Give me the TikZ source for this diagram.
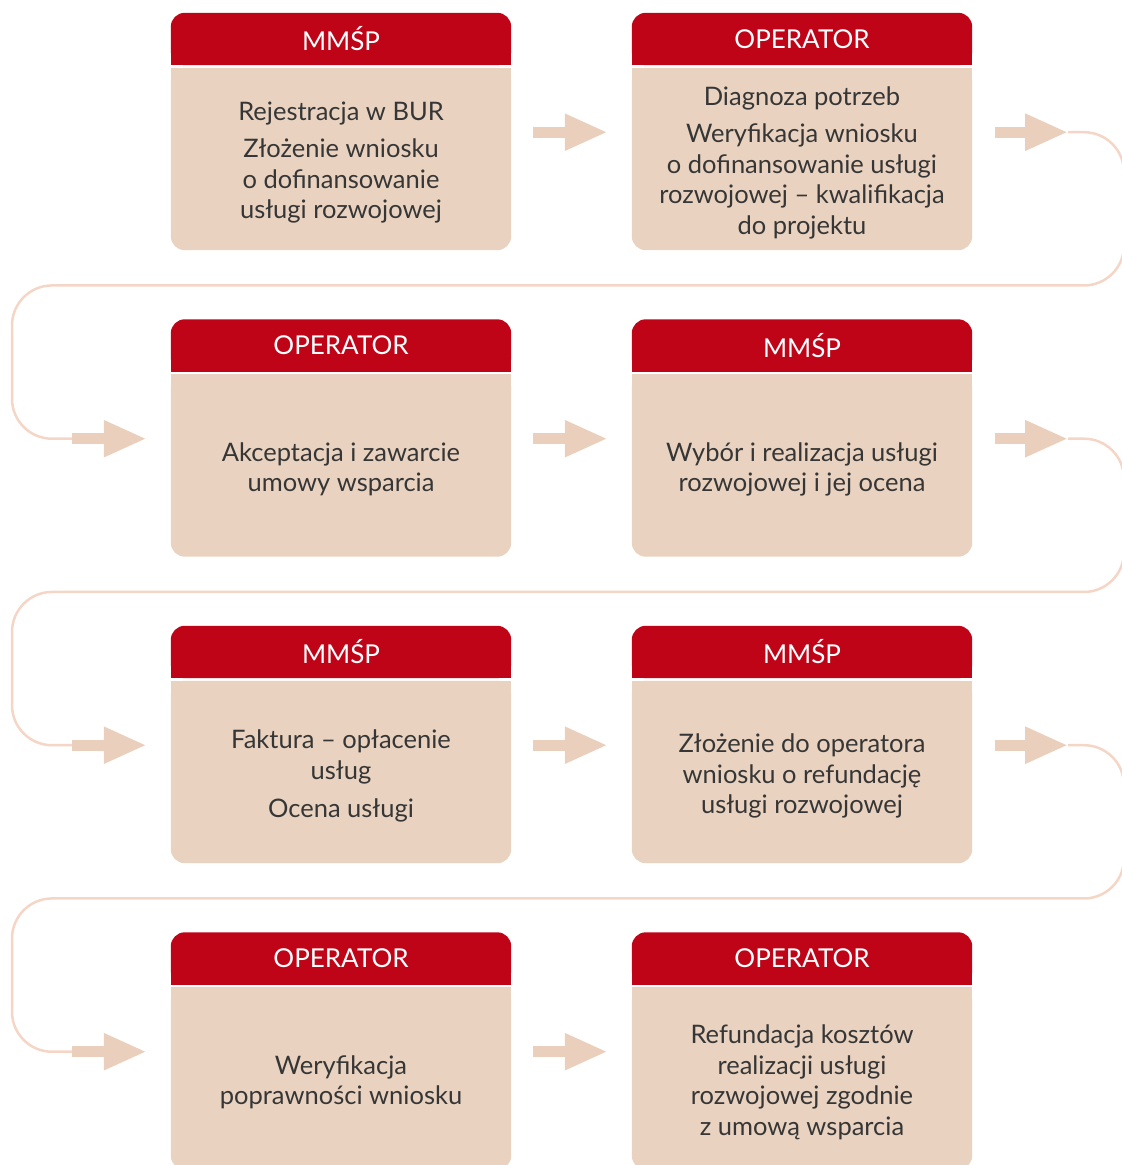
\documentclass[tikz,border=0pt]{standalone}
\usepackage{fontspec}
\setmainfont{Lato}
\usetikzlibrary{positioning,calc,arrows.meta,backgrounds}
\definecolor{mmred}{HTML}{C00418}
\definecolor{mmbody}{HTML}{E9D3C0}
\definecolor{mmarrow}{HTML}{E9CFBC}
\definecolor{mmline}{HTML}{F5D6C6}
\definecolor{mmtext}{HTML}{363636}

\begin{document}
\begin{tikzpicture}[x=1pt,y=1pt,on grid,
    head/.style={text=white,minimum width=340pt,minimum height=52pt,inner sep=0pt,
      font=\fontsize{26}{30}\selectfont},
    body/.style={text=mmtext,minimum width=340pt,minimum height=190pt,inner sep=0pt,
      align=center,font=\fontsize{25.5}{30.5}\selectfont},
    flowarrow/.style={draw=mmarrow,line width=11pt,-{Triangle[length=43pt,width=34pt]}},
    wrap/.style={draw=mmline,line width=2.5pt,rounded corners=40pt}]
	\useasboundingbox (0,0) rectangle (1122,-1165);
	\coordinate (edgeL) at (12,0);
	\coordinate (edgeR) at (1124,0);
	% headers
	\node[head] (h1) at (341,-39) {MMŚP};
	\node[head] (h2) [right=461pt of h1] {OPERATOR};
	\node[head] (h3) [below=306.5pt of h1] {OPERATOR};
	\node[head] (h4) [right=461pt of h3] {MMŚP};
	\node[head] (h5) [below=306.5pt of h3] {MMŚP};
	\node[head] (h6) [right=461pt of h5] {MMŚP};
	\node[head] (h7) [below=306.5pt of h5] {OPERATOR};
	\node[head] (h8) [right=461pt of h7] {OPERATOR};
	% bodies
	\node[body] (b1) [below=124pt of h1] {Rejestracja w BUR\\[6.5pt]Złożenie wniosku\\o dofinansowanie\\usługi rozwojowej};
	\node[body] (b2) [below=124pt of h2] {Diagnoza potrzeb\\[6.5pt]Weryfikacja wniosku\\o dofinansowanie usługi\\rozwojowej – kwalifikacja\\do projektu};
	\node[body] (b3) [below=124pt of h3] {Akceptacja i zawarcie\\umowy wsparcia};
	\node[body] (b4) [below=124pt of h4] {Wybór i realizacja usługi\\rozwojowej i jej ocena};
	\node[body] (b5) [below=124pt of h5] {Faktura – opłacenie\\usług\\[7.5pt]Ocena usługi};
	\node[body] (b6) [below=124pt of h6] {Złożenie do operatora\\wniosku o refundację\\usługi rozwojowej};
	\node[body] (b7) [below=124pt of h7] {Weryfikacja\\poprawności wniosku};
	\node[body] (b8) [below=124pt of h8] {Refundacja kosztów\\realizacji usługi\\rozwojowej zgodnie\\z umową wsparcia};
	% box fills, rounded on the outer side only
	\begin{scope}[on background layer]
		\foreach \n in {1,...,8} {
			\fill[mmred,rounded corners=14pt] (h\n.south west) rectangle (h\n.north east);
			\fill[mmred] (h\n.west) rectangle (h\n.south east);
			\fill[mmbody,rounded corners=14pt] ($(b\n.south west)+(0,8)$) rectangle (b\n.north east);
			\fill[mmbody] (b\n.north west) rectangle (b\n.east);
		}
	\end{scope}
	% lines back to the next row
	\foreach \r/\n in {2/3,4/5,6/7} {
		\coordinate (ws) at ($(h\r.south east)+(96,-67)$);
		\coordinate (we) at ($(h\n.south west)+(-71,-67)$);
		\coordinate (wm) at ($(ws)!.5!(we)$);
		\draw[wrap] (ws) -- (ws -| edgeR) |- (wm -| edgeL) |- (we);
	}
	% arrows
	\foreach \a/\b in {1/2,3/4,5/6,7/8}
		\draw[flowarrow] ($(h\a.south east)+(22,-67)$) -- ($(h\b.south west)+(-24,-67)$);
	\foreach \r in {2,4,6}
		\draw[flowarrow] ($(h\r.south east)+(23,-67)$) -- ($(h\r.south east)+(96,-67)$);
	\foreach \n in {3,5,7}
		\draw[flowarrow] ($(h\n.south west)+(-99,-67)$) -- ($(h\n.south west)+(-24,-67)$);
\end{tikzpicture}
\end{document}
